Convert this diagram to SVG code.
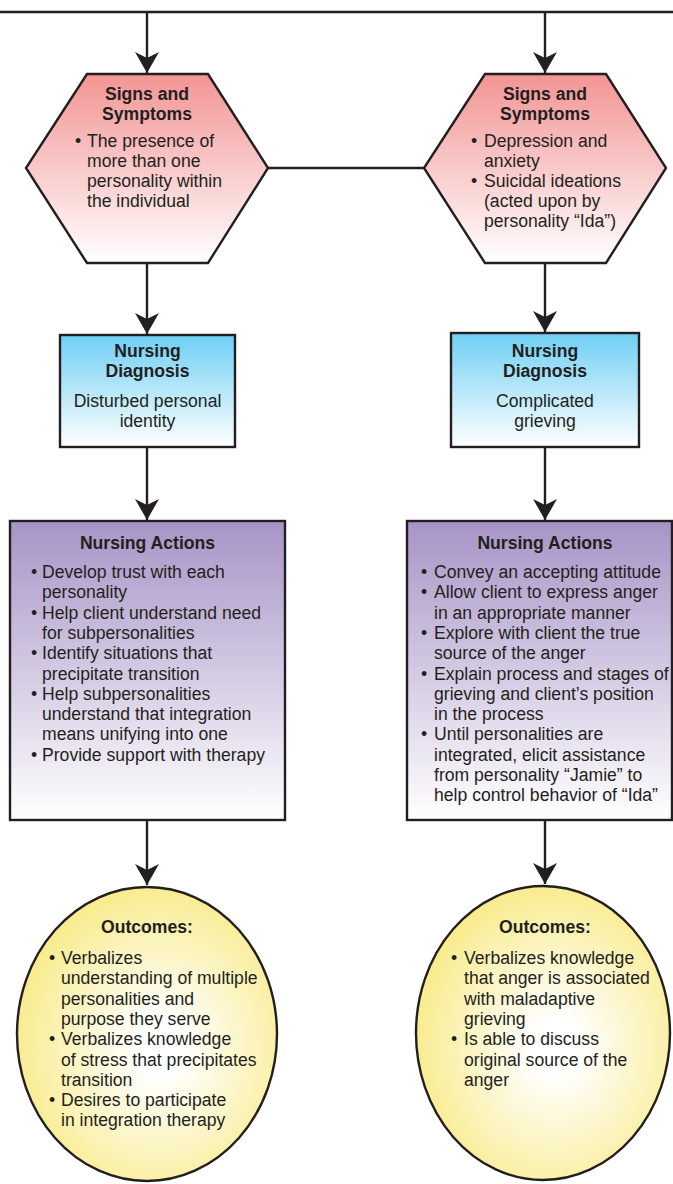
<svg xmlns="http://www.w3.org/2000/svg" width="673" height="1184" viewBox="0 0 673 1184">
<style>
.sh{stroke:#231f20;stroke-width:2.4;stroke-linejoin:miter}
.ln{stroke:#231f20;stroke-width:2.4;fill:none}
text{font-family:"Liberation Sans",Arial,sans-serif;font-size:17.6px;fill:#231f20}
.t{font-weight:bold;text-anchor:middle}
.c{text-anchor:middle}
</style>
<defs>
<linearGradient id="gHex" x1="0" y1="0" x2="0" y2="1">
<stop offset="0" stop-color="#f39494"/><stop offset="1" stop-color="#ffffff"/>
</linearGradient>
<linearGradient id="gDia" x1="0" y1="0" x2="0" y2="1">
<stop offset="0" stop-color="#6fcff4"/><stop offset="1" stop-color="#ffffff"/>
</linearGradient>
<linearGradient id="gAct" x1="0" y1="0" x2="0" y2="1">
<stop offset="0" stop-color="#a794c6"/><stop offset="1" stop-color="#ffffff"/>
</linearGradient>
<radialGradient id="gOut" cx="0.55" cy="0.55" r="0.6">
<stop offset="0" stop-color="#ffffff"/><stop offset="0.15" stop-color="#ffffff"/><stop offset="1" stop-color="#f8ea84"/>
</radialGradient>
<marker id="arr" markerUnits="userSpaceOnUse" viewBox="-22 -13 23 26" refX="0" refY="0" markerWidth="23" markerHeight="26" orient="auto">
<path d="M0,0 L-21,-12 L-15,0 L-21,12 Z" fill="#231f20"/>
</marker>
</defs>
<rect width="673" height="1184" fill="#ffffff"/>
<g id="connectors">
<line class="ln" x1="0" y1="12" x2="673" y2="12"/>
<line class="ln" x1="147" y1="12" x2="147" y2="73" marker-end="url(#arr)"/>
<line class="ln" x1="545" y1="12" x2="545" y2="73" marker-end="url(#arr)"/>
<line class="ln" x1="268" y1="168" x2="424" y2="168"/>
<line class="ln" x1="147" y1="263" x2="147" y2="334" marker-end="url(#arr)"/>
<line class="ln" x1="545" y1="263" x2="545" y2="332" marker-end="url(#arr)"/>
<line class="ln" x1="147" y1="447" x2="147" y2="520" marker-end="url(#arr)"/>
<line class="ln" x1="545" y1="447" x2="545" y2="520" marker-end="url(#arr)"/>
<line class="ln" x1="147" y1="820" x2="147" y2="885" marker-end="url(#arr)"/>
<line class="ln" x1="545" y1="820" x2="545" y2="884" marker-end="url(#arr)"/>
</g>
<g id="signs-left">
<polygon class="sh" fill="url(#gHex)" points="87,74 208,74 268,168 208,263 87,263 26,168"/>
<text class="t" x="147" y="100">Signs and<tspan x="147" dy="19.5">Symptoms</tspan></text>
<text x="75" y="147">•</text>
<text x="87" y="147">The presence of<tspan x="87" dy="20">more than one</tspan><tspan x="87" dy="20">personality within</tspan><tspan x="87" dy="20">the individual</tspan></text>
</g>
<g id="signs-right">
<polygon class="sh" fill="url(#gHex)" points="485,74 606,74 666,168 606,263 485,263 424,168"/>
<text class="t" x="545" y="100">Signs and<tspan x="545" dy="19.5">Symptoms</tspan></text>
<text x="471" y="147">•</text>
<text x="471" y="187">•</text>
<text x="484" y="147">Depression and<tspan x="484" dy="20">anxiety</tspan><tspan x="484" dy="20">Suicidal ideations</tspan><tspan x="484" dy="20">(acted upon by</tspan><tspan x="484" dy="20">personality “Ida”)</tspan></text>
</g>
<g id="diagnosis-left">
<rect class="sh" fill="url(#gDia)" x="60" y="335" width="175" height="112"/>
<text class="t" x="147.5" y="357">Nursing<tspan x="147.5" dy="19.5">Diagnosis</tspan></text>
<text class="c" x="147.5" y="407">Disturbed personal<tspan x="147.5" dy="20">identity</tspan></text>
</g>
<g id="diagnosis-right">
<rect class="sh" fill="url(#gDia)" x="451" y="333" width="188" height="114"/>
<text class="t" x="545" y="357">Nursing<tspan x="545" dy="19.5">Diagnosis</tspan></text>
<text class="c" x="545" y="407">Complicated<tspan x="545" dy="20">grieving</tspan></text>
</g>
<g id="actions-left">
<rect class="sh" fill="url(#gAct)" x="10" y="521" width="275" height="299"/>
<text class="t" x="147.5" y="549">Nursing Actions</text>
<text x="31" y="578">•</text>
<text x="31" y="618.6">•</text>
<text x="31" y="659.2">•</text>
<text x="31" y="699.8">•</text>
<text x="31" y="760.7">•</text>
<text x="42" y="578">Develop trust with each<tspan x="42" dy="20.3">personality</tspan><tspan x="42" dy="20.3">Help client understand need</tspan><tspan x="42" dy="20.3">for subpersonalities</tspan><tspan x="42" dy="20.3">Identify situations that</tspan><tspan x="42" dy="20.3">precipitate transition</tspan><tspan x="42" dy="20.3">Help subpersonalities</tspan><tspan x="42" dy="20.3">understand that integration</tspan><tspan x="42" dy="20.3">means unifying into one</tspan><tspan x="42" dy="20.3">Provide support with therapy</tspan></text>
</g>
<g id="actions-right">
<rect class="sh" fill="url(#gAct)" x="407" y="521" width="265" height="299"/>
<text class="t" x="545" y="549">Nursing Actions</text>
<text x="421" y="578">•</text>
<text x="421" y="598.3">•</text>
<text x="421" y="638.9">•</text>
<text x="421" y="679.5">•</text>
<text x="421" y="740.4">•</text>
<text x="434" y="578">Convey an accepting attitude<tspan x="434" dy="20.3">Allow client to express anger</tspan><tspan x="434" dy="20.3">in an appropriate manner</tspan><tspan x="434" dy="20.3">Explore with client the true</tspan><tspan x="434" dy="20.3">source of the anger</tspan><tspan x="434" dy="20.3">Explain process and stages of</tspan><tspan x="434" dy="20.3">grieving and client’s position</tspan><tspan x="434" dy="20.3">in the process</tspan><tspan x="434" dy="20.3">Until personalities are</tspan><tspan x="434" dy="20.3">integrated, elicit assistance</tspan><tspan x="434" dy="20.3">from personality “Jamie” to</tspan><tspan x="434" dy="20.3">help control behavior of “Ida”</tspan></text>
</g>
<g id="outcomes-left">
<ellipse class="sh" fill="url(#gOut)" cx="147" cy="1034" rx="130" ry="147"/>
<text class="t" x="147" y="933">Outcomes:</text>
<text x="49" y="964">•</text>
<text x="49" y="1045.2">•</text>
<text x="49" y="1106.1">•</text>
<text x="61" y="964">Verbalizes<tspan x="61" dy="20.3">understanding of multiple</tspan><tspan x="61" dy="20.3">personalities and</tspan><tspan x="61" dy="20.3">purpose they serve</tspan><tspan x="61" dy="20.3">Verbalizes knowledge</tspan><tspan x="61" dy="20.3">of stress that precipitates</tspan><tspan x="61" dy="20.3">transition</tspan><tspan x="61" dy="20.3">Desires to participate</tspan><tspan x="61" dy="20.3">in integration therapy</tspan></text>
</g>
<g id="outcomes-right">
<ellipse class="sh" fill="url(#gOut)" cx="543" cy="1033" rx="127" ry="147"/>
<text class="t" x="545" y="933">Outcomes:</text>
<text x="451" y="964">•</text>
<text x="451" y="1045.2">•</text>
<text x="464" y="964">Verbalizes knowledge<tspan x="464" dy="20.3">that anger is associated</tspan><tspan x="464" dy="20.3">with maladaptive</tspan><tspan x="464" dy="20.3">grieving</tspan><tspan x="464" dy="20.3">Is able to discuss</tspan><tspan x="464" dy="20.3">original source of the</tspan><tspan x="464" dy="20.3">anger</tspan></text>
</g>
</svg>
